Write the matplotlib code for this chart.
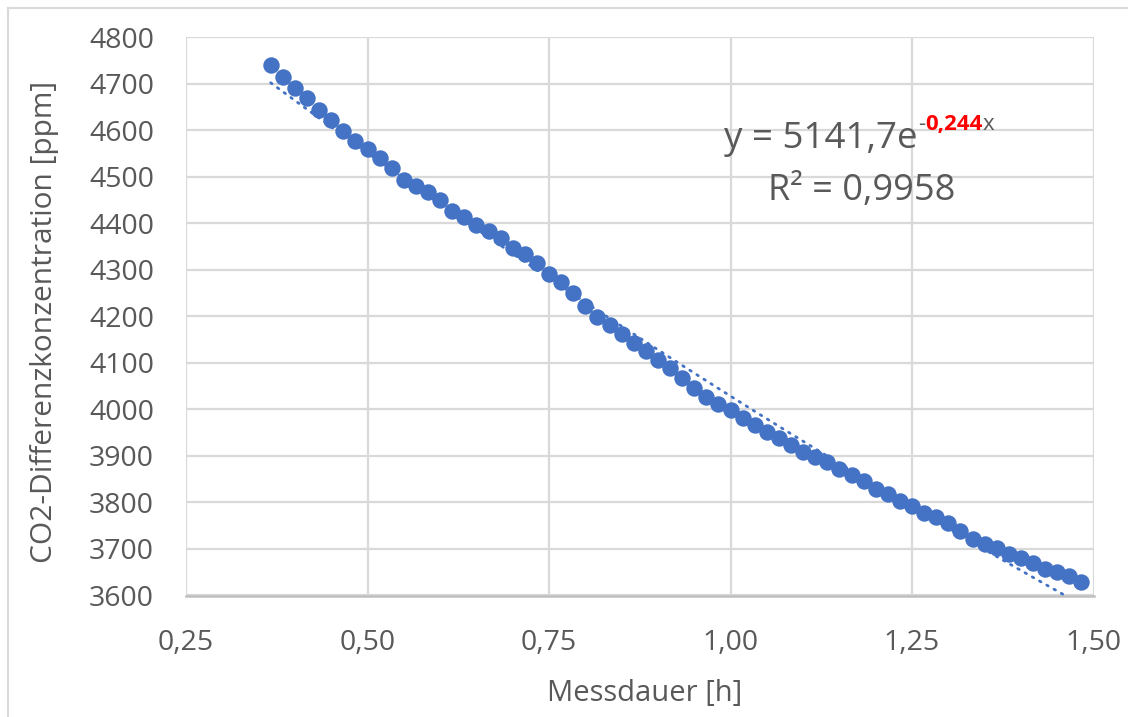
import numpy as np
import matplotlib
matplotlib.use("Agg")
import matplotlib.pyplot as plt
from matplotlib.lines import Line2D

# Messdauer in Minuten (ein Messpunkt pro Minute), umgerechnet in Stunden
minutes = np.arange(22, 90)
hours = minutes / 60.0

co2_ppm = [
    4739, 4714, 4691, 4668, 4644, 4621, 4597, 4576, 4559, 4540,
    4518, 4492, 4479, 4467, 4450, 4426, 4414, 4395, 4384, 4369,
    4347, 4333, 4314, 4291, 4273, 4249, 4222, 4198, 4181, 4162,
    4142, 4126, 4107, 4089, 4067, 4046, 4026, 4011, 3998, 3981,
    3966, 3951, 3938, 3924, 3908, 3897, 3886, 3871, 3859, 3846,
    3829, 3818, 3802, 3793, 3778, 3768, 3755, 3739, 3721, 3710,
    3701, 3689, 3680, 3669, 3658, 3650, 3642, 3630,
]

# exponentielle Trendlinie (wie in Excel angezeigt)
trend_a = 5141.7
trend_b = -0.244
r_squared = "0,9958"

x_ticks = [0.25, 0.50, 0.75, 1.00, 1.25, 1.50]
y_ticks = list(range(3600, 4801, 100))

blue = "#4472C4"
grey = "#595959"
grid = "#d9d9d9"

plt.rcParams["font.family"] = ["Open Sans", "DejaVu Sans"]

W, H = 1128, 717
fig = plt.figure(figsize=(W / 100, H / 100), dpi=100)
fig.patch.set_facecolor("white")

# Plotbereich in Pixeln
left, right, top, bottom = 186, 1093.5, 37, 595.5
ax = fig.add_axes([left / W, 1 - bottom / H, (right - left) / W, (bottom - top) / H])

ax.scatter(hours, co2_ppm, s=140, color=blue, zorder=3, linewidths=0)

xt = np.linspace(hours[0], hours[-1], 300)
ax.plot(xt, trend_a * np.exp(trend_b * xt), color=blue, lw=2.0,
        linestyle=(0, (0.6, 2.4)), dash_capstyle="round", zorder=4)

ax.set_xlim(0.25, 1.50)
ax.set_ylim(3600, 4800)
ax.set_xticks(x_ticks)
ax.set_yticks(y_ticks)
ax.set_xticklabels([f"{t:.2f}".replace(".", ",") for t in x_ticks])
ax.set_yticklabels([str(t) for t in y_ticks])
ax.tick_params(length=0, labelsize=20.5, colors=grey)
ax.tick_params(axis="x", pad=24)
ax.tick_params(axis="y", pad=23)

ax.grid(True, color=grid, lw=1.6, zorder=0)
ax.set_axisbelow(True)
for side in ["left", "top", "right"]:
    ax.spines[side].set_visible(False)
ax.spines["bottom"].set_color("#bfbfbf")
ax.spines["bottom"].set_linewidth(1.8)

fig.text(45 / W, 1 - 322 / H, "CO2-Differenzkonzentration [ppm]", rotation=90,
         ha="center", va="center", fontsize=21.5, color=grey)
fig.text(645 / W, 1 - 693 / H, "Messdauer [h]", ha="center", va="center",
         fontsize=21, color=grey)

# Gleichung der Trendlinie
eq_base = 1 - 148 / H
sup_base = 1 - 130 / H
eq = fig.text(918 / W, eq_base, "y = 5141,7e", ha="right", va="baseline",
              fontsize=26.5, color=grey)
minus = ax.annotate("-", xy=(1, sup_base), xycoords=(eq, "figure fraction"),
                    va="baseline", fontsize=16, color=grey)
coef = ax.annotate(f"{-trend_b:.3f}".replace(".", ","), xy=(1, sup_base),
                   xycoords=(minus, "figure fraction"), va="baseline",
                   fontsize=16, color="red", fontweight="bold")
ax.annotate("x", xy=(1, sup_base), xycoords=(coef, "figure fraction"),
            va="baseline", fontsize=16, color=grey)
fig.text(862 / W, 1 - 200 / H, "R² = " + r_squared, ha="center", va="baseline",
         fontsize=26, color=grey)

# Rahmen des Diagramms (links und oben sichtbar)
fig.add_artist(Line2D([8 / W, 8 / W], [0, 1 - 8 / H], color=grid, lw=1.5))
fig.add_artist(Line2D([8 / W, 1], [1 - 8 / H, 1 - 8 / H], color=grid, lw=1.5))

fig.savefig("out.png", dpi=100)
